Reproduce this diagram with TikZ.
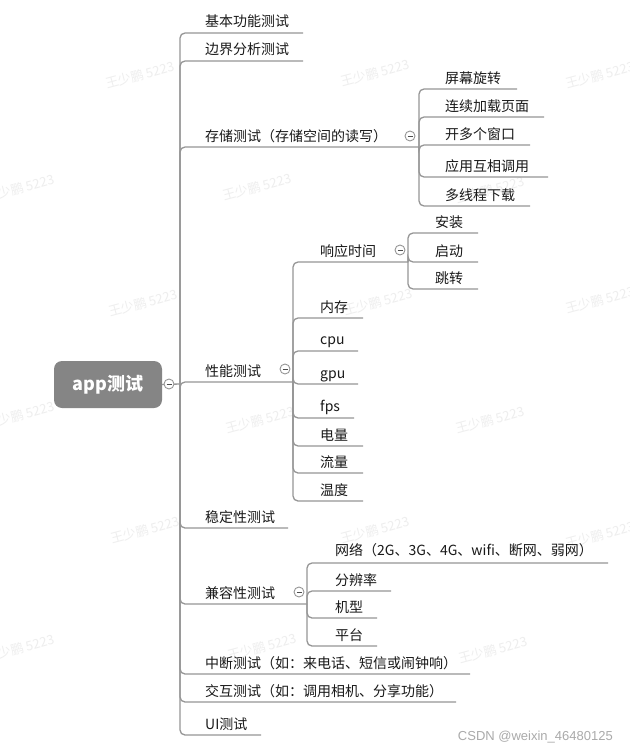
\documentclass[tikz,border=0pt]{standalone}
\usepackage{fontspec}
\setmainfont{Noto Sans CJK SC}
\newfontfamily\wmfont{Liberation Sans}
\definecolor{linegray}{RGB}{150,150,150}
\definecolor{rootgray}{RGB}{133,133,133}
\definecolor{wmgray}{RGB}{238,238,238}
\definecolor{csdngray}{RGB}{170,170,170}
\begin{document}
\begin{tikzpicture}[x=1pt,y=-1pt,
  lbl/.style={anchor=base west,inner sep=0pt,font=\fontsize{14}{15}\selectfont,text=black!90},
  ln/.style={draw=linegray,line width=1.3pt,rounded corners=5pt},
  fold/.style={circle,draw=linegray,fill=white,line width=0.9pt,minimum size=10pt,inner sep=0pt,
    path picture={\draw[black!70,line width=0.8pt] ([xshift=-2.5pt]path picture bounding box.center) -- ([xshift=2.5pt]path picture bounding box.center);}},
  wm/.style={text=wmgray,rotate=15,font=\fontsize{13}{14}\selectfont},
  root/.style={rectangle,rounded corners=8pt,fill=rootgray,text=white,font=\fontsize{18}{20}\selectfont\bfseries,minimum width=108pt,minimum height=47pt,inner sep=0pt}
]
\useasboundingbox (0,0) rectangle (629,752);
\fill[white] (0,0) rectangle (629,752);

% faint watermarks
\foreach \px/\py [count=\i] in {140/75,375/73,600/75,20/188,257/187,490/190,143/303,378/302,600/300,20/415,260/420,490/420,145/530,375/530,600/535,20/648,262/647,493/650}
  \node[wm] (wm\i) at (\px,\py) {王少鹏 5223};

% root
\node[root] (root) at (108,384.5) {app测试};
\coordinate (tr) at (180,384);
\draw[ln] (root.east) -- (tr);
\node[fold] (f0) at (169,384) {};

% level 1 ends
\coordinate (a1e) at (303,33);
\coordinate (a2e) at (303,61);
\coordinate (sb) at (419,147);
\coordinate (pb) at (293,382);
\coordinate (a5e) at (288,528);
\coordinate (cb) at (307,604);
\coordinate (a7e) at (470,674);
\coordinate (a8e) at (456,702);
\coordinate (a9e) at (261,735);
\foreach \e in {a1e,a2e,sb,pb,a5e,cb,a7e,a8e,a9e}
  \draw[ln] (tr) |- (\e);

\node[lbl] (a1) at (205,27) {基本功能测试};
\node[lbl] (a2) at (205,55) {边界分析测试};
\node[lbl] (a3) at (205,141) {存储测试（存储空间的读写）};
\node[lbl] (a4) at (205,376) {性能测试};
\node[lbl] (a5) at (205,522) {稳定性测试};
\node[lbl] (a6) at (205,598) {兼容性测试};
\node[lbl] (a7) at (205,668) {中断测试（如：来电话、短信或闹钟响）};
\node[lbl] (a8) at (205,696) {交互测试（如：调用相机、分享功能）};
\node[lbl] (a9) at (205,729) {UI测试};

% storage children
\coordinate (s1e) at (517,89);
\coordinate (s2e) at (544,117);
\coordinate (s3e) at (530,145);
\coordinate (s4e) at (548,177);
\coordinate (s5e) at (530,206);
\foreach \e in {s1e,s2e,s3e,s4e,s5e}
  \draw[ln] (sb) |- (\e);
\node[lbl] (s1) at (445,83) {屏幕旋转};
\node[lbl] (s2) at (445,111) {连续加载页面};
\node[lbl] (s3) at (445,139) {开多个窗口};
\node[lbl] (s4) at (445,171) {应用互相调用};
\node[lbl] (s5) at (445,200) {多线程下载};
\node[fold] (f1) at (410,136) {};

% performance children
\coordinate (rb) at (408,262);
\coordinate (p2e) at (363,318);
\coordinate (p3e) at (358,351);
\coordinate (p4e) at (358,384);
\coordinate (p5e) at (354,418);
\coordinate (p6e) at (363,446);
\coordinate (p7e) at (363,473);
\coordinate (p8e) at (363,501);
\foreach \e in {rb,p2e,p3e,p4e,p5e,p6e,p7e,p8e}
  \draw[ln] (pb) |- (\e);
\node[lbl] (p1) at (320,256) {响应时间};
\node[lbl] (p2) at (320,312) {内存};
\node[lbl] (p3) at (320,344) {cpu};
\node[lbl] (p4) at (320,378) {gpu};
\node[lbl] (p5) at (320,411) {fps};
\node[lbl] (p6) at (320,440) {电量};
\node[lbl] (p7) at (320,467) {流量};
\node[lbl] (p8) at (320,495) {温度};
\node[fold] (f2) at (285,369) {};

% response-time children
\coordinate (r1e) at (478,233);
\coordinate (r2e) at (478,262);
\coordinate (r3e) at (478,289);
\foreach \e in {r1e,r2e,r3e}
  \draw[ln] (rb) |- (\e);
\node[lbl] (r1) at (435,227) {安装};
\node[lbl] (r2) at (435,256) {启动};
\node[lbl] (r3) at (435,283) {跳转};
\node[fold] (f3) at (400,250) {};

% compatibility children
\coordinate (c1e) at (608,563);
\coordinate (c2e) at (391,591);
\coordinate (c3e) at (377,618);
\coordinate (c4e) at (377,646);
\foreach \e in {c1e,c2e,c3e,c4e}
  \draw[ln] (cb) |- (\e);
\node[lbl] (c1) at (335,555) {网络（2G、3G、4G、wifi、断网、弱网）};
\node[lbl] (c2) at (335,585) {分辨率};
\node[lbl] (c3) at (335,612) {机型};
\node[lbl] (c4) at (335,640) {平台};
\node[fold] (f4) at (299,592) {};

% CSDN mark
\node[anchor=east,inner sep=0pt,text=csdngray,font=\wmfont\fontsize{13}{14}\selectfont] (csdn) at (613,737) {CSDN @weixin\_46480125};
\end{tikzpicture}
\end{document}
